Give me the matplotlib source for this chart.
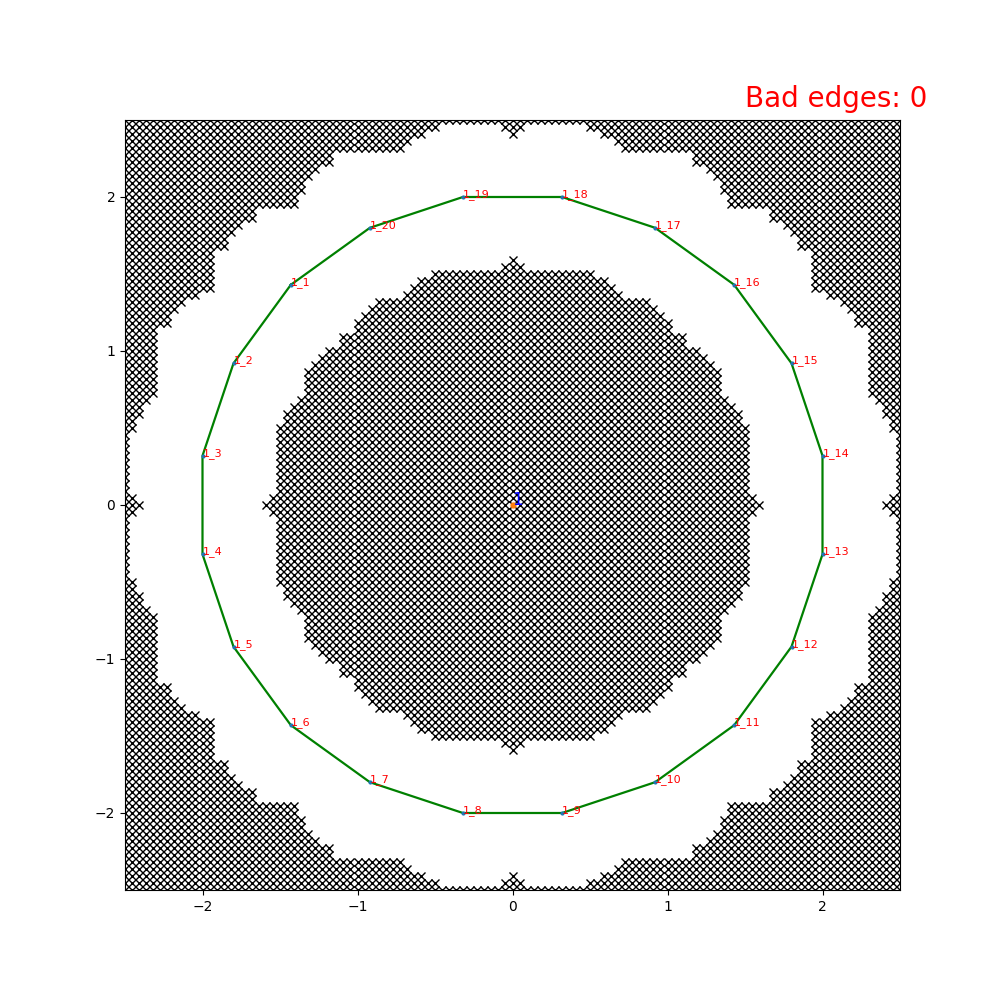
"""Ring polygon over an obstacle lattice, with the bad-edge count."""

import matplotlib

matplotlib.use("Agg")
import matplotlib.pyplot as plt
import numpy as np
from matplotlib.path import Path

# Polygon vertices (ring 1), in label order 1_1 .. 1_20
vertex_labels = [f"1_{k}" for k in range(1, 21)]
vertex_x = [-1.43, -1.80, -2.00, -2.00, -1.80, -1.43, -0.92, -0.32, 0.32, 0.92,
            1.43, 1.80, 2.00, 2.00, 1.80, 1.43, 0.92, 0.32, -0.32, -0.92]
vertex_y = [1.43, 0.92, 0.32, -0.32, -0.92, -1.43, -1.80, -2.00, -2.00, -1.80,
            -1.43, -0.92, -0.32, 0.32, 0.92, 1.43, 1.80, 2.00, 2.00, 1.80]

inner_octant = [(0.0, 1.61), (0.02, 1.57), (0.06, 1.565), (0.07, 1.52),
                (0.52, 1.52), (0.53, 1.475), (0.60, 1.47), (0.64, 1.42),
                (0.70, 1.385), (0.72, 1.335), (0.88, 1.335), (0.95, 1.24),
                (1.06, 1.12), (1.10, 1.10)]
outer_octant = [(0.0, 2.39), (0.02, 2.43), (0.065, 2.435), (0.07, 2.48),
                (0.49, 2.48), (0.50, 2.43), (0.56, 2.43), (0.57, 2.38),
                (0.67, 2.38), (0.68, 2.33), (0.72, 2.33), (0.73, 2.28),
                (0.88, 2.28), (0.89, 2.31), (0.97, 2.31), (0.98, 2.28),
                (1.16, 2.28), (1.17, 2.21), (1.23, 2.20), (1.29, 2.12),
                (1.35, 2.06), (1.38, 2.00), (1.39, 1.92), (1.63, 1.92),
                (1.70, 1.83), (1.80, 1.80)]

grid_n = 111
bad_edges = 0
center_label = "1"


def full_boundary(octant):
    """Mirror one octant into a closed, ordered boundary."""
    q1 = list(octant) + [(y, x) for (x, y) in reversed(octant)]
    q4 = [(x, -y) for (x, y) in reversed(q1)]
    q3 = [(-x, -y) for (x, y) in q1]
    q2 = [(-x, y) for (x, y) in reversed(q1)]
    return np.array(q1 + q4 + q3 + q2)


inner_path = Path(full_boundary(inner_octant))
outer_path = Path(full_boundary(outer_octant))

g = np.linspace(-2.5, 2.5, grid_n)
gx, gy = np.meshgrid(g, g)
pts = np.column_stack([gx.ravel(), gy.ravel()])
blocked = inner_path.contains_points(pts) | ~outer_path.contains_points(pts)

fig, ax = plt.subplots(figsize=(10, 10), dpi=100)

ax.plot(pts[blocked, 0], pts[blocked, 1], "kx", ms=6, mew=1.0)

# closed ring
ring_x = vertex_x + vertex_x[:1]
ring_y = vertex_y + vertex_y[:1]
ax.plot(ring_x, ring_y, color="green", lw=1.6)
ax.scatter(vertex_x, vertex_y, s=4, color="C0", zorder=3)
for lab, x, y in zip(vertex_labels, vertex_x, vertex_y):
    ax.text(x, y, lab, color="red", fontsize=8)

ax.plot(0, 0, "o", color="C1", ms=3.5)
ax.text(0, 0, center_label, color="blue", fontsize=12)

ax.set_xlim(-2.5, 2.5)
ax.set_ylim(-2.5, 2.5)
ax.set_xticks([-2, -1, 0, 1, 2])
ax.set_yticks([-2, -1, 0, 1, 2])

fig.text(0.927, 0.893, f"Bad edges: {bad_edges}", color="red", fontsize=20,
         ha="right", va="baseline")

fig.savefig("out.png")
